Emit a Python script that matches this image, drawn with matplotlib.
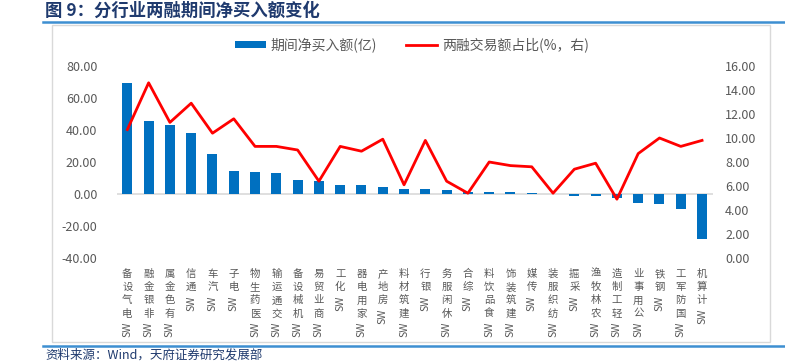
import matplotlib
matplotlib.use("Agg")
import matplotlib.pyplot as plt
from matplotlib.patches import Rectangle, Patch
from matplotlib.lines import Line2D

plt.rcParams['font.family'] = ['Noto Sans CJK SC', 'DejaVu Sans']

# data
cats = ["SW电气设备", "SW非银金融", "SW有色金属", "SW通信", "SW汽车", "SW电子",
        "SW医药生物", "SW交通运输", "SW机械设备", "SW商业贸易", "SW化工", "SW家用电器",
        "SW房地产", "SW建筑材料", "SW银行", "SW休闲服务", "SW综合", "SW食品饮料",
        "SW建筑装饰", "SW传媒", "SW纺织服装", "SW采掘", "SW农林牧渔", "SW轻工制造",
        "SW公用事业", "SW钢铁", "SW国防军工", "SW计算机"]
net_buy = [69.6, 45.8, 43.1, 38.1, 24.8, 14.4, 13.5, 13.3, 9.0, 7.9, 5.8, 5.4,
           4.6, 3.1, 3.0, 2.2, 1.4, 1.4, 1.2, 0.6, 0.3, -1.2, -1.2, -2.3,
           -5.4, -6.5, -9.4, -28.1]
share = [10.7, 14.6, 11.3, 12.9, 10.4, 11.6, 9.3, 9.3, 9.0, 6.4, 9.3, 8.9,
         9.9, 6.1, 9.8, 6.4, 5.4, 8.0, 7.7, 7.6, 5.4, 7.4, 7.9, 4.9,
         8.7, 10.0, 9.3, 9.8]
left_ticks = [-40, -20, 0, 20, 40, 60, 80]
right_ticks = [0, 2, 4, 6, 8, 10, 12, 14, 16]

blue = "#0070C0"
red = "#FF0000"
gray = "#595959"
navy = "#1F3A6E"

W, H = 785, 362
fig = plt.figure(figsize=(W / 100, H / 100), dpi=100)

# outer frame and the blue rules
fig.patches.append(Rectangle((52 / W, 1 - 342 / H), 718 / W, 317 / H,
                             transform=fig.transFigure, fill=False,
                             edgecolor="#D9D9D9", linewidth=1))
fig.lines.append(Line2D([43 / W, 1], [1 - 22 / H] * 2, transform=fig.transFigure,
                        color="#3D8FD1", linewidth=1.8))
fig.lines.append(Line2D([43 / W, 1], [1 - 346 / H] * 2, transform=fig.transFigure,
                        color="#3D8FD1", linewidth=1.8))

fig.text(45 / W, 1 - 11 / H, "图 9：分行业两融期间净买入额变化", fontsize=12.5,
         fontweight="bold", color=navy, va="center", ha="left")
fig.text(45 / W, 1 - 355 / H, "资料来源：Wind，天府证券研究发展部", fontsize=9,
         color=navy, va="center", ha="left")

ax = fig.add_axes([116.7 / W, 1 - 258 / H, 596 / W, 192 / H])
x = list(range(len(cats)))
ax.bar(x, net_buy, width=0.47, color=blue, zorder=2)
ax.axhline(0, color="#D9D9D9", linewidth=1.2, zorder=1)
ax.set_xlim(-0.5, len(cats) - 0.5)
ax.set_ylim(-40, 80)
ax.set_yticks(left_ticks)
ax.set_yticklabels([f"{v:.2f}" for v in left_ticks])
ax.set_xticks([])
for s in ax.spines.values():
    s.set_visible(False)
ax.tick_params(axis="y", length=0, labelsize=9, labelcolor=gray, pad=14)

ax2 = ax.twinx()
ax2.plot(x, share, color=red, linewidth=2, zorder=3)
ax2.set_ylim(0, 16)
ax2.set_yticks(right_ticks)
ax2.set_yticklabels([f"{v:.2f}" for v in right_ticks])
for s in ax2.spines.values():
    s.set_visible(False)
ax2.tick_params(axis="y", length=0, labelsize=9, labelcolor=gray, pad=9)

# category labels: CJK chars upright and stacked (last char on top), "SW" rotated below
step = 13.2
for i, c in enumerate(cats):
    chars = c[2:]
    for k, ch in enumerate(reversed(chars)):
        ax.annotate(ch, xy=(i, 0), xycoords=ax.get_xaxis_transform(),
                    xytext=(0, -11 - step * k), textcoords="offset pixels",
                    ha="center", va="top", fontsize=7.5, color=gray)
    ax.annotate("SW", xy=(i, 0), xycoords=ax.get_xaxis_transform(),
                xytext=(0, -11 - step * len(chars)), textcoords="offset pixels",
                ha="center", va="top", rotation=90, fontsize=7.5, color=gray)

handles = [Patch(facecolor=blue, edgecolor="none"),
           Line2D([], [], color=red, linewidth=2)]
fig.legend(handles, ["期间净买入额(亿)", "两融交易额占比(%，右)"],
           loc="center", bbox_to_anchor=(412 / W, 1 - 45 / H), ncol=2, frameon=False,
           fontsize=10, labelcolor=gray, handlelength=2.2, handleheight=0.45,
           columnspacing=2.1, handletextpad=0.35)

fig.savefig("out.png", dpi=100)
